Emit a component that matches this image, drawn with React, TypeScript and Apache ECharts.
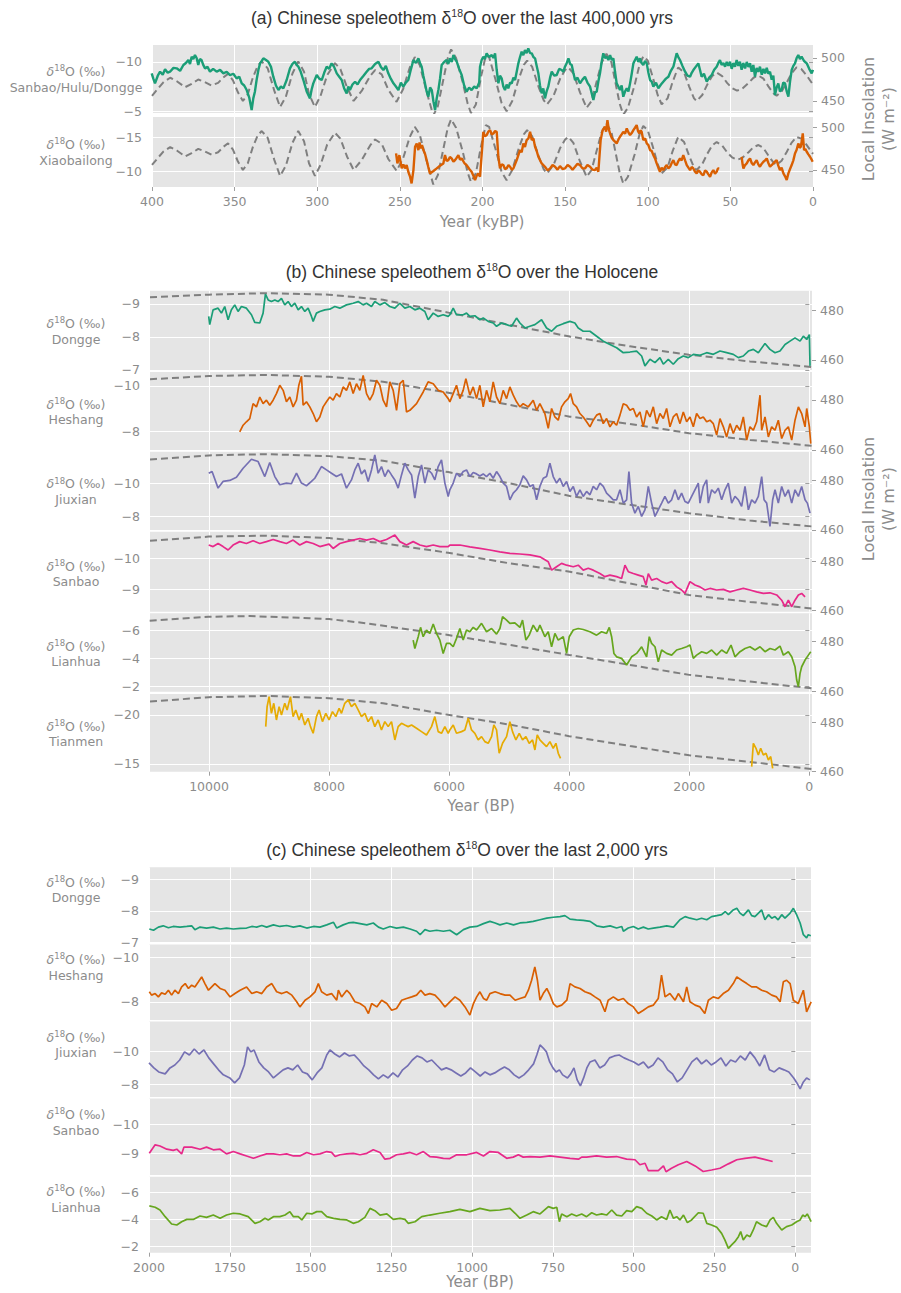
import React, { useEffect, useRef } from "react";
import * as echarts from "echarts";

// ---------------- tick labels ----------------
const yearTicks400k = [400, 350, 300, 250, 200, 150, 100, 50, 0];
const yearTicksHolocene = [10000, 8000, 6000, 4000, 2000, 0];
const yearTicks2k = [2000, 1750, 1500, 1250, 1000, 750, 500, 250, 0];
const insolTicks400k = [450, 500];
const insolTicksHolocene = [460, 480];
const ticksSanbaoHuluDongge = [-10, -5];
const ticksXiaobailong = [-15, -10];
const ticksDongge = [-9, -8, -7];
const ticksHeshang = [-10, -8];
const ticksJiuxian = [-10, -8];
const ticksSanbao = [-10, -9];
const ticksLianhua = [-6, -4, -2];
const ticksTianmen = [-20, -15];

// ---------------- (a) last 400,000 yrs (kyBP, permil / W m-2) ----------------
const insolation400k = [
  [400, 456], [397, 463], [393, 472], [389, 477], [385, 473], [380, 466], [376, 470], [372, 475], [368, 472], [364, 468],
  [360, 471], [357, 477], [354, 481.5], [351, 474], [348, 460], [345, 450], [342, 458], [339, 477], [336, 491], [333.6, 496],
  [330, 488], [326, 462], [322.5, 443], [319, 455], [315, 482], [311.5, 496], [308, 484], [305, 458], [301.4, 443], [298, 456],
  [294, 480], [289.3, 494], [286, 487], [282, 466], [278, 450], [273, 462], [268, 479], [265, 486], [261, 481], [257, 463],
  [252, 449], [248, 464], [244, 489], [241, 501], [238, 492], [234, 462], [229.8, 433], [227, 444], [224, 472], [221, 500],
  [219, 510], [216, 500], [212, 472], [209, 447], [207, 436], [204, 446], [201, 477], [198, 503], [196, 501], [192, 474],
  [188.5, 448], [185.4, 438], [182, 450], [178, 476], [175, 492], [173, 497], [170, 490], [166, 466], [163, 451], [161, 446],
  [157, 456], [153, 476], [150, 486], [148, 489], [145, 482], [141, 460], [137, 442], [134, 450], [131, 472], [128, 494],
  [125, 505], [122, 495], [119, 466], [117, 447], [114.8, 434], [112, 442], [108, 468], [105, 492], [102.7, 502], [100, 497],
  [97, 478], [94, 457], [91.6, 446], [88, 453], [85, 472], [82, 487], [81.5, 489], [78, 483], [75, 467], [72, 453],
  [70.4, 450], [67, 457], [64, 469], [61, 479], [58.3, 483], [55, 479], [52, 471], [49, 465], [46, 462], [43, 464],
  [39, 471], [36, 477], [33, 479.5], [30, 476], [27, 467], [24, 459], [22, 456], [19, 461], [16, 471], [13, 482],
  [10, 489], [7, 487], [4, 480], [0, 469],
];

const sanbaoHuluDongge400k = [
  [400.2, -8.84], [399.2, -8.3], [398.2, -7.82], [396.5, -8.6], [395.1, -9.01], [393.5, -8.7], [392.1, -9.25], [390.5, -8.9],
  [389.1, -9.01], [387, -9.4], [385.1, -9.35], [383, -9.1], [381, -9.69], [379.5, -9.9], [378, -10.2], [377, -9.8],
  [376, -10.54], [375, -10.3], [374, -10.71], [373, -10.4], [372, -9.69], [371, -10.3], [370, -10.2], [369, -9.7],
  [367.9, -9.35], [366.4, -9.5], [364.9, -9.01], [363, -9.3], [360.9, -9.01], [358.8, -9.2], [356.8, -8.84], [354.8, -9.0],
  [352.8, -8.67], [350.8, -8.8], [348.8, -8.33], [347.2, -8.5], [345.7, -7.82], [344.2, -7.6], [342.7, -7.14], [341.2, -6.4],
  [339.7, -5.1], [338.7, -6.29], [337.7, -7.0], [336.7, -8.16], [335.6, -9.2], [334.6, -9.86], [333.6, -10.1], [332.6, -10.37],
  [331, -10.2], [329.6, -10.03], [328, -9.5], [326.6, -8.5], [325, -7.6], [323.5, -7.14], [322, -7.5], [320.5, -7.31],
  [318.5, -8.16], [316.5, -9.35], [315, -9.8], [313.5, -10.03], [312.5, -9.7], [311.4, -9.52], [310, -9.0], [308.4, -8.16],
  [306.4, -7.0], [304.4, -6.29], [303.4, -7.2], [302.4, -7.82], [300.3, -8.67], [298.8, -8.3], [297.3, -8.16], [295.8, -8.9],
  [294.3, -9.52], [292.8, -9.3], [291.3, -9.86], [289.8, -9.5], [288.2, -8.84], [286.7, -8.5], [285.2, -8.16], [283.7, -7.3],
  [282.2, -6.8], [281.2, -7.5], [280.2, -7.14], [278.7, -7.7], [277.1, -7.99], [275.6, -7.7], [274.1, -8.16], [272, -8.6],
  [270.1, -9.01], [268.6, -9.3], [267.1, -9.35], [265, -9.8], [263, -10.03], [261.5, -9.5], [260, -9.18], [258.5, -9.6],
  [257, -8.84], [255.5, -8.3], [253.9, -7.82], [252.4, -7.5], [250.9, -7.14], [249.4, -7.9], [247.9, -7.48], [246.4, -7.9],
  [244.9, -8.16], [243.4, -9.2], [241.8, -10.2], [240.3, -9.9], [238.8, -10.37], [237.8, -9.9], [236.8, -9.52], [235.8, -8.6],
  [234.8, -7.82], [233.8, -7.0], [232.8, -6.46], [231.7, -7.4], [230.7, -7.14], [229.7, -6.0], [228.7, -5.1], [227.7, -6.3],
  [226.7, -7.14], [225.7, -8.3], [224.7, -9.69], [223.2, -10.0], [221.7, -10.2], [220.7, -9.8], [219.7, -10.37], [218.6, -10.0],
  [217.6, -10.71], [216.6, -10.3], [215.6, -10.03], [214.1, -9.3], [212.6, -8.67], [211.1, -7.6], [209.6, -6.97], [208.1, -7.4],
  [206.6, -7.14], [205, -7.5], [203.5, -7.31], [202, -7.9], [201.5, -9.52], [200.5, -10.2], [199.5, -10.54], [198.5, -10.3],
  [197.5, -10.88], [196, -10.5], [194.4, -10.71], [193.4, -10.4], [192.4, -10.88], [191.4, -9.18], [190.4, -7.82], [189.4, -8.6],
  [188.4, -8.33], [187.4, -7.5], [186.4, -7.14], [185.4, -7.7], [184.4, -7.31], [183.3, -7.9], [182.3, -7.82], [181.3, -8.4],
  [180.3, -8.16], [179.3, -9.0], [178.3, -9.86], [177.3, -10.5], [176.3, -11.05], [175.3, -10.7], [174.3, -11.22], [173.3, -10.9],
  [172.3, -11.39], [171.2, -10.9], [170.2, -10.88], [169.2, -10.5], [168.2, -10.37], [167.2, -9.6], [166.2, -8.84], [165.2, -7.6],
  [164.2, -6.8], [163.2, -7.3], [162.2, -6.29], [161.2, -7.0], [160.2, -7.48], [159.1, -8.4], [158.1, -9.01], [156.6, -8.6],
  [155.1, -8.67], [153.6, -9.3], [152.1, -9.18], [151.1, -9.0], [150.1, -9.52], [149, -9.9], [148, -10.37], [147, -9.8],
  [146, -9.69], [145, -8.9], [144, -8.16], [142.5, -8.4], [141, -7.82], [139.5, -8.2], [138, -8.5], [136.5, -7.9],
  [134.9, -7.48], [133.9, -6.8], [132.9, -6.12], [131.9, -6.9], [130.9, -6.97], [129.9, -8.0], [128.9, -8.84], [127.9, -10.0],
  [126.9, -10.88], [125.8, -10.4], [124.8, -10.54], [123.8, -10.2], [122.8, -10.71], [121.8, -10.2], [120.8, -10.37], [119.8, -9.0],
  [118.8, -7.82], [117.8, -7.5], [116.8, -7.14], [115.8, -7.6], [114.8, -6.46], [113.7, -7.0], [112.7, -7.31], [111.7, -7.0],
  [110.7, -7.82], [109.7, -8.8], [108.7, -9.86], [107.7, -10.2], [106.7, -10.54], [105.7, -10.0], [104.7, -10.37], [103.7, -9.9],
  [102.7, -9.69], [101.6, -10.1], [100.6, -9.86], [99.6, -8.9], [98.6, -8.16], [97.6, -8.0], [96.6, -7.48], [95, -7.9],
  [93.6, -7.31], [92, -7.7], [90.6, -7.99], [89, -8.3], [87.5, -8.5], [86, -9.1], [84.5, -9.52], [83.5, -10.2],
  [82.5, -10.88], [81.5, -10.5], [80.5, -10.2], [79, -9.6], [77.4, -9.01], [76, -8.6], [74.4, -8.5], [73.4, -8.9],
  [72.4, -9.18], [71, -9.5], [69.4, -9.86], [68.4, -9.2], [67.4, -8.5], [66, -8.8], [64.3, -7.99], [62.8, -8.4],
  [61.3, -8.67], [59.8, -9.2], [58.3, -9.52], [57.3, -9.9], [56.3, -10.2], [55.3, -9.7], [54.2, -9.9], [53.2, -9.52],
  [52.2, -10.0], [51.2, -9.6], [50.2, -10.03], [49.2, -9.3], [48.2, -9.9], [47.2, -9.52], [46.2, -10.2], [45.2, -9.6],
  [44.2, -10.03], [43.2, -9.2], [42.2, -9.9], [41.1, -9.35], [40.1, -10.0], [39.1, -9.5], [38.1, -9.86], [37.1, -9.0],
  [36.1, -9.7], [35.1, -8.5], [34.1, -9.4], [33.1, -9.0], [32.1, -9.52], [31, -8.7], [30, -9.3], [29, -8.84],
  [28, -9.4], [27, -8.8], [26, -9.01], [25, -8.2], [24, -8.6], [23, -6.63], [22, -7.4], [21, -7.82],
  [20, -7.0], [19, -7.14], [18, -7.9], [16.9, -7.82], [15.9, -7.0], [14.9, -6.46], [13.9, -8.0], [12.9, -9.18],
  [11.9, -9.6], [10.9, -9.86], [9.9, -10.4], [8.9, -10.71], [7.9, -10.3], [6.9, -10.54], [5.4, -10.1], [3.8, -9.86],
  [2.3, -9.3], [0.8, -8.84], [0, -9.2],
];

const xiaobailongEarly = [
  [252.3, -12.64], [251.5, -11.14], [250.3, -12.39], [248.9, -10.39], [247.9, -11.0], [246.9, -10.39], [245.9, -10.9], [244.9, -9.89],
  [243.9, -9.2], [242.9, -8.14], [241.8, -10.14], [240.8, -13.64], [239.8, -14.14], [238.8, -13.14], [238.1, -14.3], [237.4, -13.39],
  [236.6, -13.9], [235.8, -13.14], [234.8, -12.6], [233.8, -11.64], [232.8, -10.6], [231.8, -9.64], [229.7, -10.0], [227.7, -10.39],
  [225.7, -10.8], [223.7, -11.14], [222.7, -12.39], [221.7, -11.5], [220.7, -11.64], [219.7, -12.1], [218.7, -11.89], [217.6, -11.4],
  [216.6, -11.64], [215.6, -12.0], [214.6, -12.39], [213.6, -11.7], [212.6, -11.89], [211, -11.2], [209.6, -10.89], [208, -10.3],
  [206.6, -9.89], [205.5, -9.3], [204.5, -8.64], [203.5, -9.3], [202.5, -9.64], [201.5, -9.14], [200.5, -12.5], [199.5, -15.89],
  [198.5, -15.2], [197.5, -15.39], [196.5, -15.9], [195.4, -16.14], [194.4, -15.5], [193.4, -15.64], [192.4, -16.0], [191.4, -15.89],
  [190.4, -12.14], [189.4, -10.39], [188.4, -11.0], [187.4, -10.89], [186.4, -10.3], [185.4, -10.39], [184.3, -10.9], [183.3, -10.64],
  [182.3, -10.2], [181.3, -10.39], [179.3, -11.64], [177.3, -13.14], [176.3, -12.8], [175.3, -14.14], [174.3, -13.6], [173.3, -14.64],
  [172.2, -14.9], [171.2, -15.89], [170.2, -14.64], [169.2, -14.9], [168.2, -13.64], [167.2, -13.0], [166.2, -12.14], [164.2, -11.14],
  [162.2, -10.64], [160.6, -10.1], [159.1, -10.39], [157.6, -10.9], [156.1, -10.64], [154.6, -10.2], [153.1, -10.74], [151.6, -10.3],
  [150.1, -10.39], [148.5, -10.9], [147, -10.64], [145.5, -10.2], [144, -10.64], [142.5, -11.1], [141, -10.89], [139.5, -10.4],
  [138, -10.39], [136.5, -10.9], [134.9, -10.64], [133.4, -10.2], [131.9, -10.14], [130.9, -10.5], [129.9, -9.89], [128.5, -14.64],
  [127.3, -16.14], [125.9, -16.64], [125.2, -15.9], [124.4, -17.64], [123.6, -16.3], [122.8, -15.64], [121.8, -15.0], [120.8, -14.64],
  [119.8, -14.4], [118.8, -14.14], [117.8, -14.7], [116.8, -15.14], [115.8, -15.5], [114.8, -15.89], [113.7, -15.6], [112.7, -16.39],
  [111.7, -15.8], [110.7, -15.39], [109.7, -15.7], [108.7, -16.14], [107.7, -16.5], [106.7, -16.89], [105.9, -16.0], [105.1, -15.64],
  [104.4, -16.1], [103.7, -15.89], [102.7, -14.64], [101.6, -14.9], [100.6, -14.14], [99.6, -13.9], [98.6, -13.14], [97.6, -13.0],
  [96.6, -12.39], [95.6, -11.9], [94.6, -11.14], [93.6, -10.5], [92.6, -9.89], [91.6, -10.5], [90.6, -10.14], [89.5, -10.6],
  [88.5, -10.89], [87.5, -10.4], [86.5, -10.64], [85.5, -11.2], [84.5, -11.64], [83.5, -11.0], [82.5, -10.89], [81.5, -11.5],
  [80.5, -11.89], [79.5, -11.6], [78.5, -12.39], [77.4, -11.6], [76.4, -10.89], [75.4, -10.5], [74.4, -10.14], [73.4, -10.6],
  [72.4, -10.39], [71.4, -9.9], [70.4, -9.64], [69.4, -10.1], [68.4, -9.89], [67.3, -9.5], [66.3, -9.39], [65.3, -10.1],
  [64.3, -9.89], [63.3, -9.5], [62.3, -9.14], [61.3, -9.8], [60.3, -10.14], [59.3, -9.6], [58.3, -9.89], [57.5, -10.4], [56.7, -10.39],
];
const xiaobailongLate = [
  [43.2, -12.14], [42.6, -11.0], [42.1, -10.39], [41.1, -10.9], [40.1, -11.14], [39.1, -11.6], [38.1, -11.89], [37.1, -11.2],
  [36.1, -10.89], [35.1, -11.3], [34.1, -11.64], [33.1, -11.0], [32.1, -10.64], [31, -11.1], [30, -11.39], [29, -11.6],
  [28, -11.89], [27, -11.2], [26, -10.64], [25, -10.9], [24, -11.14], [23, -11.4], [22, -11.64], [21, -10.8],
  [20, -10.14], [19, -10.5], [17.9, -9.64], [16.9, -9.2], [15.9, -8.64], [14.9, -9.64], [13.9, -10.3], [12.9, -10.89],
  [11.9, -11.6], [10.9, -12.64], [9.9, -13.2], [8.9, -14.14], [8.1, -13.5], [7.4, -13.64], [6.8, -14.5], [6.2, -15.64],
  [5.8, -14.4], [5.4, -13.14], [4.6, -13.3], [3.8, -12.89], [2.8, -12.5], [1.8, -12.14], [1, -11.8], [0.2, -11.39],
];

// ---------------- (b) Holocene (yr BP) ----------------
const insolDonggeHolocene = [[10983, 485.4], [10005, 486.5], [9043, 487.1], [8000, 486.5], [7100, 484.4], [6015, 479.2], [4988, 474.2], [3988, 469.5], [2988, 465.5], [2004, 462.1], [988, 459.4], [-45, 457.1]];
const insolHeshangHolocene = [[10983, 488.3], [10005, 489.6], [9043, 490], [8000, 489.3], [7100, 487.3], [6015, 482.9], [4988, 478], [3988, 473.3], [2988, 470.4], [2004, 466.7], [988, 464], [-45, 461.6]];
const insolJiuxianHolocene = [[10983, 488.6], [10005, 490.3], [9043, 490.8], [8000, 490], [7100, 488.1], [6015, 483.5], [4988, 478.9], [3988, 473.8], [2988, 470.2], [2004, 466.8], [988, 463.8], [-45, 461.4]];
const insolSanbaoHolocene = [[10983, 488.5], [10005, 490.2], [9043, 490.6], [8000, 489.6], [7100, 487.5], [6015, 483.6], [4988, 479.3], [3988, 475.9], [2988, 471.1], [2004, 466.4], [988, 463.6], [-45, 460.9]];
const insolLianhuaHolocene = [[10988, 488.4], [10005, 490], [9321, 490.3], [8488, 489.6], [8000, 489.1], [7377, 487.4], [6821, 485.4], [6015, 482.7], [4988, 478.7], [4000, 474.7], [2988, 470.7], [2000, 466.7], [988, 464], [-45, 461.3]];
const insolTianmenHolocene = [[10983, 488.5], [10005, 490.3], [9043, 490.8], [8000, 489.9], [7100, 487.8], [6015, 483.1], [4988, 479.1], [4000, 474.4], [2988, 470.4], [2000, 466.6], [988, 463.9], [-45, 461]];

const donggeHolocene = [
  [10005, -8.62], [9988, -8.37], [9932, -8.82], [9849, -8.87], [9793, -8.72], [9738, -8.92], [9682, -8.52], [9627, -8.82], [9571, -8.97],
  [9516, -8.77], [9460, -8.92], [9377, -8.87], [9293, -8.67], [9238, -8.44], [9154, -8.42], [9099, -8.72], [9060, -9.3], [9015, -9.12],
  [8960, -9.07], [8904, -9.12], [8849, -9.07], [8793, -9.17], [8738, -8.97], [8682, -9.07], [8627, -8.92], [8571, -9.02], [8515, -8.82],
  [8460, -8.92], [8404, -8.77], [8349, -8.87], [8293, -8.62], [8265, -8.47], [8210, -8.72], [8154, -8.77], [8071, -8.82], [7988, -8.84],
  [7904, -8.92], [7821, -8.87], [7710, -8.97], [7599, -9.02], [7515, -9.07], [7432, -8.97], [7376, -9.02], [7293, -8.92], [7238, -9.07],
  [7154, -8.97], [7071, -9.04], [6988, -8.92], [6904, -8.87], [6821, -9.02], [6738, -8.87], [6654, -8.92], [6571, -8.82], [6487, -8.87],
  [6404, -8.77], [6349, -8.52], [6265, -8.72], [6182, -8.62], [6099, -8.67], [6015, -8.62], [5988, -8.67], [5932, -8.87], [5877, -8.67],
  [5766, -8.67], [5710, -8.72], [5655, -8.62], [5571, -8.64], [5488, -8.52], [5432, -8.57], [5349, -8.47], [5266, -8.42], [5210, -8.32],
  [5127, -8.42], [5043, -8.37], [4960, -8.32], [4877, -8.57], [4821, -8.42], [4738, -8.27], [4655, -8.32], [4571, -8.37], [4460, -8.52],
  [4377, -8.27], [4293, -8.17], [4210, -8.32], [4099, -8.4], [3988, -8.47], [3905, -8.42], [3849, -8.27], [3766, -8.17], [3654, -8.17],
  [3543, -8.02], [3432, -7.87], [3321, -7.77], [3210, -7.67], [3099, -7.52], [2988, -7.54], [2877, -7.57], [2793, -7.42], [2738, -7.12],
  [2654, -7.32], [2571, -7.22], [2488, -7.37], [2432, -7.17], [2349, -7.32], [2266, -7.17], [2182, -7.34], [2099, -7.42], [2016, -7.37],
  [1932, -7.47], [1821, -7.44], [1710, -7.52], [1599, -7.47], [1488, -7.57], [1377, -7.52], [1266, -7.47], [1182, -7.37], [1099, -7.42],
  [1015, -7.57], [932, -7.62], [849, -7.52], [738, -7.8], [655, -7.62], [571, -7.52], [488, -7.57], [404, -7.77], [321, -7.87],
  [238, -7.97], [154, -7.87], [99, -8.02], [43, -7.92], [-1, -8.07], [-12, -7.12],
];

const heshangHolocene = [
  [9488, -7.99], [9432, -8.28], [9377, -8.43], [9321, -8.57], [9266, -9.22], [9210, -9.08], [9154, -9.51], [9099, -9.22], [9043, -9.37],
  [8988, -9.15], [8932, -9.37], [8877, -9.66], [8821, -10.02], [8765, -9.8], [8710, -9.3], [8654, -9.51], [8599, -9.08], [8543, -9.37],
  [8504, -10.02], [8460, -10.41], [8432, -9.15], [8377, -9.3], [8321, -9.08], [8265, -8.79], [8210, -8.43], [8154, -8.64], [8099, -9.08],
  [8043, -9.3], [7988, -9.51], [7932, -9.37], [7877, -9.66], [7821, -9.51], [7765, -9.95], [7710, -9.8], [7654, -10.17], [7599, -9.66],
  [7543, -10.09], [7488, -9.8], [7432, -10.45], [7376, -9.66], [7321, -9.37], [7265, -9.66], [7210, -10.24], [7154, -10.02], [7099, -9.37],
  [7043, -9.08], [6988, -10.17], [6932, -9.8], [6876, -8.93], [6821, -10.09], [6765, -10.24], [6710, -8.86], [6654, -8.93], [6543, -9.22],
  [6432, -9.73], [6349, -10.17], [6265, -10.09], [6182, -9.8], [6099, -9.73], [6015, -9.44], [5988, -9.3], [5932, -9.66], [5877, -10.02],
  [5821, -9.44], [5766, -9.8], [5721, -10.31], [5655, -9.59], [5599, -9.95], [5543, -9.44], [5488, -10.02], [5432, -9.08], [5377, -9.8],
  [5321, -9.3], [5266, -10.17], [5210, -9.51], [5154, -9.22], [5099, -9.8], [5043, -9.44], [4988, -9.95], [4932, -9.59], [4877, -9.3],
  [4821, -9.08], [4766, -9.22], [4682, -9.08], [4599, -9.37], [4543, -8.93], [4488, -9.22], [4405, -8.79], [4349, -8.14], [4293, -9.01],
  [4238, -8.64], [4182, -8.5], [4127, -9.08], [4071, -9.3], [4016, -9.44], [3977, -9.66], [3932, -9.22], [3877, -9.08], [3821, -8.79],
  [3766, -8.64], [3710, -8.43], [3654, -8.21], [3599, -8.5], [3543, -8.72], [3488, -8.79], [3432, -8.35], [3377, -8.57], [3321, -8.21],
  [3266, -8.43], [3210, -8.28], [3154, -8.72], [3099, -9.22], [3043, -9.15], [2988, -8.93], [2932, -9.01], [2877, -8.64], [2821, -8.86],
  [2766, -8.21], [2710, -8.93], [2654, -8.64], [2599, -9.08], [2543, -8.35], [2488, -8.79], [2432, -8.57], [2377, -9.01], [2321, -8.21],
  [2266, -8.64], [2210, -8.79], [2154, -8.35], [2099, -8.86], [2043, -8.43], [1988, -8.64], [1932, -8.21], [1877, -8.79], [1821, -8.57],
  [1766, -8.64], [1710, -8.43], [1654, -8.5], [1599, -8.35], [1543, -7.85], [1488, -8.57], [1432, -8.21], [1377, -7.77], [1321, -8.35],
  [1266, -7.92], [1210, -8.28], [1154, -8.06], [1099, -8.64], [1043, -7.63], [988, -8.21], [932, -8.06], [877, -8.43], [821, -9.59],
  [793, -8.06], [738, -8.64], [682, -7.77], [627, -8.21], [571, -8.06], [516, -8.5], [460, -7.7], [404, -8.06], [349, -8.21],
  [293, -7.63], [238, -8.5], [182, -9.08], [127, -8.79], [71, -8.21], [43, -9.01], [-1, -8.21], [-24, -7.48],
];

const jiuxianHolocene = [
  [10005, -10.6], [9949, -10.7], [9849, -9.71], [9766, -10.11], [9654, -10.17], [9543, -10.36], [9432, -10.9], [9293, -11.44], [9182, -11.3],
  [9071, -10.4], [8988, -11.24], [8904, -10.4], [8821, -9.91], [8710, -10.01], [8627, -9.97], [8599, -10.2], [8543, -10.6], [8460, -10.01],
  [8377, -9.85], [8293, -10.11], [8238, -10.3], [8127, -11.0], [8043, -10.8], [7960, -10.6], [7877, -10.4], [7793, -10.56], [7710, -9.71],
  [7627, -10.2], [7571, -10.8], [7515, -11.2], [7460, -10.56], [7404, -10.8], [7349, -10.11], [7293, -10.8], [7238, -11.7], [7182, -10.6],
  [7127, -11.0], [7071, -10.4], [7015, -10.8], [6960, -10.5], [6904, -10.2], [6849, -9.71], [6793, -10.5], [6738, -11.2], [6682, -10.8],
  [6626, -10.5], [6571, -9.11], [6515, -10.4], [6460, -11.1], [6404, -10.01], [6349, -10.8], [6293, -10.6], [6238, -10.2], [6182, -11.0],
  [6127, -11.4], [6071, -10.01], [6015, -9.21], [5988, -9.61], [5932, -10.01], [5877, -10.6], [5821, -10.4], [5766, -10.7], [5710, -10.8],
  [5655, -10.4], [5599, -10.64], [5543, -10.56], [5488, -10.44], [5432, -10.56], [5377, -10.4], [5321, -10.6], [5266, -10.3], [5210, -10.7],
  [5154, -10.4], [5099, -10.01], [5043, -9.81], [4988, -9.01], [4932, -9.41], [4877, -9.61], [4821, -9.91], [4766, -10.44], [4710, -10.2],
  [4655, -9.81], [4599, -9.91], [4543, -9.01], [4488, -9.81], [4432, -10.3], [4377, -10.4], [4321, -11.2], [4266, -10.4], [4210, -10.01],
  [4155, -10.3], [4099, -9.81], [4043, -10.11], [3988, -9.51], [3932, -9.81], [3877, -9.21], [3821, -9.61], [3766, -9.21], [3710, -9.51],
  [3654, -9.31], [3599, -9.81], [3543, -9.61], [3488, -10.01], [3432, -9.81], [3377, -9.41], [3321, -9.21], [3266, -9.01], [3210, -9.01],
  [3154, -9.61], [3099, -8.81], [3043, -9.01], [3005, -10.7], [2960, -8.81], [2905, -8.21], [2849, -8.61], [2793, -8.01], [2738, -8.41],
  [2682, -9.81], [2627, -8.81], [2571, -8.01], [2516, -8.41], [2460, -8.81], [2405, -9.21], [2349, -8.81], [2293, -9.01], [2238, -9.61],
  [2182, -9.01], [2127, -9.41], [2071, -8.91], [2016, -8.81], [1960, -9.21], [1905, -9.61], [1849, -10.01], [1821, -8.81], [1766, -9.81],
  [1710, -10.2], [1682, -8.81], [1627, -9.61], [1571, -9.41], [1516, -9.71], [1460, -9.01], [1404, -9.61], [1349, -10.01], [1293, -8.81],
  [1238, -9.21], [1182, -9.01], [1127, -8.61], [1071, -9.81], [1015, -8.41], [960, -9.01], [904, -8.81], [849, -9.21], [793, -10.4],
  [754, -9.01], [710, -8.81], [655, -7.41], [610, -9.01], [571, -9.61], [516, -8.81], [460, -9.81], [404, -9.21], [349, -9.61],
  [293, -8.81], [238, -9.61], [182, -9.21], [127, -9.81], [71, -9.01], [32, -8.81], [-12, -8.21],
];

const sanbaoHolocene = [
  [10005, -10.43], [9932, -10.38], [9849, -10.48], [9766, -10.38], [9682, -10.27], [9599, -10.43], [9488, -10.54], [9377, -10.48],
  [9266, -10.57], [9154, -10.48], [9043, -10.54], [8932, -10.61], [8821, -10.54], [8710, -10.48], [8599, -10.59], [8488, -10.43],
  [8377, -10.54], [8265, -10.48], [8154, -10.38], [8000, -10.46], [7932, -10.32], [7821, -10.48], [7710, -10.54], [7599, -10.59],
  [7488, -10.64], [7376, -10.59], [7265, -10.64], [7154, -10.54], [7043, -10.61], [6904, -10.75], [6821, -10.54], [6710, -10.43],
  [6599, -10.54], [6487, -10.43], [6377, -10.38], [6265, -10.43], [6154, -10.38], [6015, -10.38], [5988, -10.43], [5821, -10.43],
  [5655, -10.37], [5488, -10.32], [5321, -10.27], [5154, -10.21], [4988, -10.16], [4821, -10.14], [4655, -10.11], [4488, -10.05],
  [4349, -9.89], [4293, -9.62], [4210, -9.73], [4127, -9.84], [4043, -9.78], [3932, -9.73], [3849, -9.78], [3766, -9.62],
  [3682, -9.68], [3599, -9.62], [3488, -9.51], [3405, -9.41], [3321, -9.46], [3210, -9.41], [3127, -9.35], [3071, -9.78],
  [3015, -9.57], [2932, -9.51], [2849, -9.46], [2766, -9.41], [2721, -9.14], [2682, -9.51], [2627, -9.3], [2543, -9.35],
  [2460, -9.25], [2377, -9.19], [2293, -9.25], [2210, -9.08], [2127, -8.98], [2071, -8.87], [1988, -9.25], [1905, -9.14],
  [1821, -9.08], [1738, -8.98], [1654, -9.03], [1543, -8.98], [1432, -9.0], [1321, -8.92], [1210, -8.98], [1099, -9.03],
  [988, -8.98], [877, -8.92], [766, -8.87], [655, -8.89], [543, -8.82], [460, -8.65], [404, -8.44], [349, -8.65],
  [293, -8.44], [238, -8.65], [182, -8.82], [127, -8.87], [71, -8.76],
];

const lianhuaHolocene = [
  [6599, -5.29], [6571, -4.7], [6515, -5.53], [6476, -6.19], [6432, -5.53], [6377, -6.0], [6321, -5.76], [6265, -6.42], [6210, -5.76],
  [6154, -5.29], [6099, -4.35], [6043, -5.06], [5988, -5.06], [5932, -4.82], [5877, -5.41], [5821, -6.11], [5766, -5.29], [5710, -6.0],
  [5655, -5.88], [5599, -6.19], [5543, -6.0], [5460, -6.47], [5377, -5.88], [5293, -6.11], [5210, -5.71], [5154, -6.11], [5110, -6.94],
  [5043, -6.7], [4988, -6.47], [4905, -6.51], [4821, -6.19], [4777, -6.7], [4721, -5.29], [4666, -5.64], [4599, -6.35], [4532, -5.88],
  [4488, -6.35], [4405, -5.53], [4349, -5.88], [4293, -4.82], [4238, -5.76], [4182, -5.29], [4099, -5.53], [4043, -4.35], [3999, -5.53],
  [3932, -6.0], [3849, -6.11], [3766, -6.04], [3654, -5.88], [3543, -5.64], [3460, -5.88], [3377, -5.76], [3332, -6.19], [3293, -5.53],
  [3255, -4.35], [3210, -4.11], [3127, -4.0], [3043, -3.53], [2960, -4.11], [2877, -4.35], [2793, -4.82], [2710, -4.11], [2666, -5.53],
  [2627, -5.06], [2571, -4.82], [2516, -3.76], [2460, -4.59], [2377, -4.35], [2293, -4.23], [2210, -4.59], [2127, -4.7], [2043, -4.82],
  [1988, -4.94], [1932, -4.0], [1877, -4.23], [1793, -4.47], [1710, -4.35], [1627, -4.59], [1543, -4.23], [1460, -4.59], [1377, -4.35],
  [1304, -4.94], [1238, -4.11], [1154, -4.47], [1071, -4.7], [988, -4.82], [904, -4.59], [821, -4.82], [738, -4.47], [655, -4.7],
  [571, -4.59], [488, -4.87], [432, -4.23], [349, -4.47], [293, -4.11], [238, -3.41], [210, -2.47], [182, -2.0], [154, -2.94],
  [127, -3.41], [71, -3.88], [15, -4.23], [-24, -4.47],
];

const tianmenHoloceneEarly = [
  [9055, -18.81], [9032, -20.85], [8999, -21.87], [8960, -20.17], [8921, -21.19], [8877, -19.49], [8832, -20.85], [8793, -20.0],
  [8738, -21.19], [8699, -20.51], [8643, -21.87], [8599, -19.83], [8555, -20.51], [8499, -19.49], [8460, -20.17], [8404, -18.98],
  [8349, -19.66], [8310, -18.81], [8265, -18.13], [8210, -19.83], [8166, -20.51], [8110, -19.32], [8054, -20.17], [8000, -19.49],
  [7943, -20.34], [7888, -19.83], [7832, -20.68], [7793, -20.17], [7738, -21.19], [7682, -21.53], [7627, -20.85], [7571, -21.19],
  [7515, -20.51], [7460, -19.83], [7404, -20.17], [7349, -19.32], [7293, -19.83], [7238, -18.81], [7182, -19.49], [7127, -18.47],
  [7071, -19.32], [7015, -18.81], [6960, -19.32], [6904, -17.45], [6849, -18.81], [6793, -19.15], [6738, -18.98], [6682, -18.81],
  [6626, -18.98], [6543, -18.64], [6460, -18.3], [6377, -17.96], [6293, -18.81], [6238, -19.83], [6182, -18.3], [6127, -18.13],
  [6071, -18.81], [6015, -18.13], [5988, -18.47], [5932, -18.98], [5877, -18.13], [5793, -18.3], [5738, -18.47], [5682, -19.66],
  [5627, -18.47], [5571, -18.13], [5516, -17.45], [5460, -17.79], [5405, -17.28], [5349, -17.11], [5293, -17.79], [5255, -18.98],
  [5210, -18.47], [5166, -16.09], [5110, -17.11], [5043, -17.79], [4988, -19.32], [4944, -18.3], [4888, -17.45], [4832, -18.13],
  [4777, -17.45], [4721, -17.79], [4666, -17.11], [4610, -17.45], [4571, -16.43], [4532, -17.96], [4488, -17.45], [4432, -17.11],
  [4377, -16.77], [4321, -17.28], [4266, -16.6], [4221, -17.11], [4182, -16.09], [4144, -15.58],
];
const tianmenHoloceneLate = [
  [960, -14.73], [932, -17.11], [888, -16.6], [849, -15.92], [810, -16.6], [766, -15.92], [721, -16.09], [682, -15.41], [643, -15.75], [610, -14.56],
];

// ---------------- (c) last 2,000 yrs (yr BP) ----------------
const dongge2k = [
  [1999, -7.43], [1986, -7.39], [1971, -7.49], [1956, -7.53], [1940, -7.47], [1925, -7.51], [1904, -7.49], [1883, -7.51], [1868, -7.53],
  [1858, -7.41], [1842, -7.49], [1822, -7.46], [1801, -7.49], [1780, -7.43], [1760, -7.46], [1739, -7.43], [1718, -7.45], [1698, -7.46],
  [1682, -7.51], [1667, -7.49], [1651, -7.54], [1636, -7.49], [1615, -7.56], [1595, -7.51], [1574, -7.54], [1553, -7.49], [1533, -7.53],
  [1512, -7.46], [1491, -7.51], [1471, -7.49], [1450, -7.56], [1429, -7.64], [1419, -7.46], [1399, -7.56], [1383, -7.62], [1368, -7.64],
  [1347, -7.6], [1326, -7.56], [1306, -7.62], [1290, -7.49], [1275, -7.43], [1254, -7.51], [1234, -7.46], [1213, -7.49], [1192, -7.43],
  [1172, -7.36], [1161, -7.25], [1146, -7.41], [1131, -7.36], [1110, -7.39], [1089, -7.36], [1069, -7.39], [1048, -7.25], [1027, -7.41],
  [1007, -7.49], [986, -7.51], [965, -7.6], [945, -7.67], [929, -7.62], [914, -7.56], [893, -7.62], [872, -7.56], [852, -7.62],
  [831, -7.64], [811, -7.67], [790, -7.72], [769, -7.77], [749, -7.8], [728, -7.82], [713, -7.85], [697, -7.74], [677, -7.72],
  [656, -7.7], [635, -7.67], [615, -7.53], [594, -7.49], [573, -7.53], [553, -7.46], [537, -7.51], [532, -7.36], [517, -7.46],
  [501, -7.51], [486, -7.43], [470, -7.49], [455, -7.43], [439, -7.46], [419, -7.49], [398, -7.53], [377, -7.49], [357, -7.72],
  [341, -7.82], [326, -7.77], [305, -7.72], [290, -7.77], [274, -7.72], [259, -7.82], [243, -7.85], [228, -7.88], [217, -7.98],
  [207, -7.88], [192, -8.03], [181, -8.08], [171, -7.93], [161, -7.85], [145, -8.03], [135, -7.85], [125, -7.82], [114, -7.93],
  [104, -8.03], [94, -7.72], [83, -7.88], [73, -7.77], [63, -7.82], [53, -7.72], [42, -7.88], [32, -7.77], [16, -7.93],
  [6, -8.08], [-4, -7.88], [-15, -7.62], [-25, -7.25], [-35, -7.15], [-40, -7.25], [-48, -7.22],
];

const heshang2k = [
  [1999, -8.45], [1992, -8.3], [1981, -8.37], [1971, -8.22], [1961, -8.4], [1950, -8.34], [1940, -8.52], [1930, -8.3], [1920, -8.52],
  [1909, -8.37], [1899, -8.67], [1888, -8.82], [1878, -8.6], [1868, -8.75], [1858, -8.67], [1847, -8.9], [1837, -9.12], [1827, -8.82],
  [1816, -8.52], [1806, -8.67], [1796, -8.82], [1780, -8.6], [1765, -8.52], [1749, -8.22], [1734, -8.37], [1718, -8.52], [1698, -8.67],
  [1682, -8.37], [1667, -8.45], [1651, -8.37], [1636, -8.67], [1620, -8.82], [1605, -8.45], [1589, -8.37], [1574, -8.45], [1558, -8.3],
  [1543, -8.0], [1533, -7.77], [1517, -8.07], [1502, -8.22], [1486, -8.45], [1476, -8.82], [1466, -8.45], [1450, -8.3], [1435, -8.37],
  [1419, -8.07], [1414, -8.52], [1404, -8.22], [1388, -8.52], [1378, -8.37], [1363, -8.0], [1347, -7.92], [1332, -7.77], [1321, -7.47],
  [1311, -7.92], [1295, -7.77], [1280, -8.07], [1264, -7.92], [1249, -7.62], [1234, -7.7], [1218, -8.07], [1203, -8.15], [1187, -8.22],
  [1172, -8.3], [1159, -8.52], [1146, -8.3], [1131, -8.37], [1115, -8.3], [1100, -8.07], [1084, -7.77], [1069, -8.0], [1053, -8.22],
  [1038, -8.07], [1022, -7.77], [1007, -7.4], [996, -7.92], [986, -8.22], [976, -8.45], [965, -8.15], [955, -8.07], [945, -8.37],
  [929, -8.45], [914, -8.37], [898, -8.3], [883, -8.3], [867, -8.07], [852, -8.15], [836, -8.22], [826, -8.52], [816, -8.97],
  [806, -9.57], [798, -8.97], [790, -8.07], [780, -8.37], [769, -8.6], [759, -8.3], [749, -7.92], [738, -7.77], [723, -7.85],
  [707, -8.07], [697, -8.82], [682, -8.67], [666, -8.6], [651, -8.45], [635, -8.37], [620, -8.22], [604, -8.07], [589, -7.55],
  [579, -8.07], [563, -8.22], [548, -8.07], [532, -8.15], [517, -7.92], [501, -7.77], [486, -7.47], [470, -7.62], [455, -7.77],
  [439, -7.85], [424, -8.15], [414, -9.2], [403, -8.22], [388, -8.37], [372, -8.07], [362, -8.37], [346, -8.0], [336, -8.67],
  [326, -8.0], [310, -7.85], [295, -7.77], [280, -7.47], [269, -8.07], [254, -8.22], [238, -8.15], [223, -8.37], [207, -8.52],
  [192, -8.82], [181, -9.12], [166, -8.97], [150, -8.82], [135, -8.67], [120, -8.67], [104, -8.52], [89, -8.45], [73, -8.3],
  [58, -8.22], [47, -8.0], [37, -8.9], [27, -8.97], [16, -8.82], [6, -8.07], [-9, -7.92], [-25, -8.52], [-35, -7.55], [-49, -8.0],
];

const jiuxian2k = [
  [2000, -9.31], [1985, -9.0], [1970, -8.75], [1950, -8.63], [1935, -9.0], [1920, -9.18], [1905, -9.49], [1890, -9.99], [1875, -9.8],
  [1860, -10.17], [1845, -9.86], [1830, -10.11], [1815, -9.62], [1800, -9.25], [1785, -8.88], [1770, -8.57], [1750, -8.38], [1735, -8.07],
  [1720, -8.38], [1705, -9.18], [1695, -10.3], [1685, -9.99], [1675, -10.11], [1660, -9.37], [1645, -9.0], [1630, -8.75], [1615, -8.38],
  [1600, -8.63], [1585, -8.88], [1570, -9.0], [1555, -8.88], [1540, -9.18], [1525, -8.75], [1510, -8.63], [1495, -8.26], [1480, -8.69],
  [1465, -9.0], [1450, -9.8], [1440, -10.11], [1425, -9.86], [1410, -9.68], [1395, -9.92], [1380, -9.74], [1365, -9.8], [1350, -9.49],
  [1335, -9.12], [1320, -8.88], [1305, -8.57], [1290, -8.32], [1275, -8.57], [1260, -8.38], [1245, -8.69], [1230, -8.44], [1215, -8.88],
  [1200, -9.12], [1185, -9.49], [1170, -9.74], [1155, -9.62], [1140, -9.37], [1125, -9.49], [1110, -9.18], [1095, -8.88], [1080, -9.0],
  [1065, -8.88], [1050, -8.69], [1035, -8.5], [1020, -8.69], [1005, -9.0], [990, -8.75], [975, -8.5], [960, -8.75], [945, -8.57],
  [930, -8.69], [915, -8.88], [900, -9.06], [885, -8.88], [870, -8.57], [855, -8.38], [840, -8.57], [825, -8.88], [810, -9.25],
  [800, -9.8], [790, -10.42], [780, -10.23], [770, -9.99], [760, -9.37], [750, -9.0], [740, -8.75], [730, -8.88], [720, -8.57],
  [705, -8.38], [695, -8.63], [685, -9.0], [675, -8.26], [665, -7.89], [655, -8.38], [645, -9.0], [635, -9.37], [620, -9.49],
  [605, -9.0], [590, -9.18], [575, -9.62], [560, -9.74], [545, -9.8], [530, -9.62], [515, -9.49], [500, -9.37], [485, -9.18],
  [470, -9.37], [455, -9.0], [440, -9.18], [425, -9.62], [410, -9.37], [395, -8.88], [380, -8.63], [365, -8.13], [350, -8.38],
  [335, -8.88], [320, -9.37], [305, -9.62], [290, -9.25], [275, -9.49], [260, -9.18], [245, -9.37], [230, -9.62], [215, -9.12],
  [200, -9.49], [185, -9.37], [170, -9.74], [155, -9.49], [140, -9.99], [125, -9.62], [110, -9.12], [95, -9.8], [80, -8.88],
  [65, -8.75], [50, -9.0], [35, -8.88], [20, -8.75], [5, -8.38], [-5, -8.07], [-15, -7.7], [-25, -8.13], [-35, -8.38], [-45, -8.26],
];

const sanbao2k = [
  [1999, -9.0], [1981, -9.29], [1966, -9.25], [1945, -9.14], [1925, -9.1], [1914, -9.14], [1899, -8.98], [1892, -9.21], [1868, -9.21],
  [1842, -9.14], [1822, -9.21], [1801, -9.12], [1780, -9.14], [1760, -8.98], [1739, -9.06], [1718, -8.98], [1698, -8.91], [1677, -8.83],
  [1657, -8.91], [1636, -8.98], [1615, -8.98], [1595, -8.95], [1574, -8.98], [1553, -8.91], [1533, -8.91], [1512, -9.03], [1491, -8.95],
  [1471, -8.98], [1450, -9.06], [1435, -9.03], [1424, -8.89], [1409, -8.95], [1388, -8.98], [1368, -9.0], [1347, -8.95], [1326, -9.0],
  [1306, -9.12], [1285, -9.03], [1270, -8.8], [1254, -8.83], [1234, -8.95], [1213, -8.98], [1192, -9.03], [1172, -8.95], [1151, -9.06],
  [1131, -8.89], [1110, -8.87], [1089, -8.83], [1069, -8.82], [1048, -8.95], [1017, -8.95], [986, -9.03], [965, -8.91], [945, -9.06],
  [919, -9.03], [893, -8.83], [873, -8.87], [857, -8.95], [842, -8.87], [821, -8.89], [790, -8.87], [759, -8.91], [728, -8.87],
  [697, -8.83], [671, -8.8], [661, -8.87], [646, -8.87], [615, -8.91], [584, -8.87], [553, -8.89], [522, -8.8], [496, -8.78],
  [481, -8.61], [465, -8.66], [455, -8.41], [439, -8.41], [424, -8.41], [408, -8.57], [400, -8.37], [383, -8.49], [362, -8.61],
  [336, -8.72], [310, -8.57], [285, -8.38], [259, -8.43], [233, -8.49], [207, -8.64], [181, -8.78], [156, -8.83], [125, -8.87],
  [99, -8.8], [70, -8.72],
];

const lianhua2k = [
  [1999, -5.0], [1981, -4.9], [1966, -4.7], [1950, -4.21], [1930, -3.67], [1914, -3.6], [1899, -3.84], [1883, -4.01], [1863, -4.01],
  [1842, -4.26], [1822, -4.16], [1801, -4.33], [1780, -4.09], [1760, -4.33], [1739, -4.46], [1718, -4.41], [1693, -4.21], [1672, -3.72],
  [1657, -3.84], [1641, -4.09], [1631, -3.97], [1615, -4.21], [1595, -4.21], [1579, -4.33], [1564, -4.58], [1553, -4.21], [1538, -4.21],
  [1527, -3.97], [1512, -4.46], [1496, -4.41], [1481, -4.58], [1466, -4.58], [1450, -4.21], [1429, -4.09], [1409, -4.01], [1388, -3.97],
  [1368, -3.72], [1352, -3.84], [1332, -4.16], [1316, -4.82], [1301, -4.65], [1285, -4.33], [1264, -4.41], [1244, -4.01], [1223, -4.09],
  [1208, -4.01], [1198, -3.72], [1177, -3.84], [1156, -4.21], [1131, -4.33], [1100, -4.46], [1069, -4.58], [1038, -4.75], [1007, -4.58],
  [976, -4.82], [945, -4.65], [914, -4.7], [883, -4.82], [867, -4.46], [852, -4.09], [831, -4.33], [811, -4.58], [790, -4.41],
  [764, -4.95], [749, -4.82], [738, -4.9], [730, -3.84], [723, -4.41], [707, -4.21], [692, -4.41], [677, -4.26], [661, -4.41],
  [646, -4.21], [630, -4.5], [615, -4.33], [599, -4.41], [584, -4.33], [568, -4.7], [553, -4.33], [537, -4.26], [522, -4.65],
  [506, -4.58], [491, -4.95], [475, -4.82], [460, -4.46], [444, -4.26], [429, -3.97], [414, -4.21], [398, -4.01], [388, -4.7],
  [377, -4.09], [367, -4.21], [357, -3.97], [346, -4.33], [334, -3.77], [321, -3.97], [300, -4.5], [285, -4.46], [274, -3.72],
  [259, -3.6], [243, -3.43], [228, -2.98], [218, -2.5], [207, -1.88], [197, -2.13], [187, -2.37], [176, -2.74], [169, -3.11],
  [161, -2.5], [150, -2.86], [140, -2.74], [130, -3.23], [120, -3.84], [104, -3.6], [89, -3.48], [78, -3.97], [68, -4.16],
  [58, -3.72], [42, -3.23], [27, -3.48], [11, -3.6], [-4, -3.84], [-15, -3.97], [-23, -4.33], [-30, -4.21], [-37, -4.41], [-49, -3.84],
];

// ---------------- styling / layout ----------------
const FONT = "DejaVu Sans";
const TITLE_FONT = "Liberation Sans";
const GRAY = "#8c8c8c";
const TICK = "#a0a0a0";
const BG = "#e5e5e5";
const DASH = "#7f7f7f";
const C_GREEN = "#1b9e77";
const C_ORANGE = "#d95f02";
const C_PURPLE = "#7570b3";
const C_PINK = "#e7298a";
const C_LIME = "#66a61e";
const C_YELLOW = "#e6ab02";

const panels: any = {
  a: { left: 152, width: 661, xMin: 0, xMax: 400, ticks: yearTicks400k, lw: 2.4 },
  b: { left: 150, width: 662, xMin: -45, xMax: 10983, ticks: yearTicksHolocene, lw: 1.7 },
  c: { left: 149, width: 662, xMin: -48.6, xMax: 2000, ticks: yearTicks2k, lw: 1.7 },
};

const rows: any[] = [
  { p: "a", top: 45, h: 68, yMin: -11.73, yMax: -4.8, yT: ticksSanbaoHuluDongge, rMin: 436, rMax: 515.1, rT: insolTicks400k, data: [sanbaoHuluDongge400k], ins: insolation400k, color: C_GREEN, name: "Sanbao/Hulu/Dongge", ly: 79.5 },
  { p: "a", top: 117, h: 70, yMin: -18.11, yMax: -7.6, yT: ticksXiaobailong, rMin: 429.9, rMax: 512.6, rT: insolTicks400k, data: [xiaobailongEarly, xiaobailongLate], ins: insolation400k, color: C_ORANGE, name: "Xiaobailong", ly: 152.5, bottom: true },
  { p: "b", top: 290.7, h: 79.8, yMin: -9.4, yMax: -6.98, yT: ticksDongge, rMin: 455.7, rMax: 488.1, rT: insolTicksHolocene, data: [donggeHolocene], ins: insolDonggeHolocene, color: C_GREEN, name: "Dongge", ly: 331.3 },
  { p: "b", top: 372, h: 78, yMin: -10.6, yMax: -7.2, yT: ticksHeshang, rMin: 459.95, rMax: 491.2, rT: insolTicksHolocene, data: [heshangHolocene], ins: insolHeshangHolocene, color: C_ORANGE, name: "Heshang", ly: 412 },
  { p: "b", top: 451.7, h: 78.3, yMin: -11.89, yMax: -7.2, yT: ticksJiuxian, rMin: 459.95, rMax: 491.8, rT: insolTicksHolocene, data: [jiuxianHolocene], ins: insolJiuxianHolocene, color: C_PURPLE, name: "Jiuxian", ly: 491.7 },
  { p: "b", top: 531.7, h: 80, yMin: -10.86, yMax: -8.28, yT: ticksSanbao, rMin: 459.6, rMax: 492.2, rT: insolTicksHolocene, data: [sanbaoHolocene], ins: insolSanbaoHolocene, color: C_PINK, name: "Sanbao", ly: 573.9 },
  { p: "b", top: 613.3, h: 78.4, yMin: -7.18, yMax: -1.65, yT: ticksLianhua, rMin: 459.95, rMax: 491.4, rT: insolTicksHolocene, data: [lianhuaHolocene], ins: insolLianhuaHolocene, color: C_LIME, name: "Lianhua", ly: 653.9 },
  { p: "b", top: 694, h: 77.7, yMin: -22.14, yMax: -14.21, yT: ticksTianmen, rMin: 459.9, rMax: 491.6, rT: insolTicksHolocene, data: [tianmenHoloceneEarly, tianmenHoloceneLate], ins: insolTianmenHolocene, color: C_YELLOW, name: "Tianmen", ly: 733.9, bottom: true },
  { p: "c", top: 867.3, h: 75.7, yMin: -9.37, yMax: -6.99, yT: ticksDongge, data: [dongge2k], color: C_GREEN, name: "Dongge", ly: 890 },
  { p: "c", top: 944.5, h: 75.5, yMin: -10.58, yMax: -7.18, yT: ticksHeshang, data: [heshang2k], color: C_ORANGE, name: "Heshang", ly: 967.2 },
  { p: "c", top: 1021.5, h: 75.5, yMin: -11.87, yMax: -7.2, yT: ticksJiuxian, data: [jiuxian2k], color: C_PURPLE, name: "Jiuxian", ly: 1045 },
  { p: "c", top: 1098.5, h: 76.5, yMin: -10.87, yMax: -8.26, yT: ticksSanbao, data: [sanbao2k], color: C_PINK, name: "Sanbao", ly: 1122.5 },
  { p: "c", top: 1176.7, h: 76, yMin: -7.15, yMax: -1.56, yT: ticksLianhua, data: [lianhua2k], color: C_LIME, name: "Lianhua", ly: 1199.5, bottom: true },
];

const fmtNeg = (v: number) => (v < 0 ? "\u2212" + Math.abs(v) : String(v));

const labelRich = {
  d: { fontFamily: FONT, fontSize: 12.5, fontStyle: "italic", fill: GRAY, lineHeight: 15.7 },
  s: { fontFamily: FONT, fontSize: 8.5, fill: GRAY, lineHeight: 6, verticalAlign: "top" },
  n: { fontFamily: FONT, fontSize: 12.5, fill: GRAY, lineHeight: 15.7 },
};
const titleRich = {
  t: { fontFamily: TITLE_FONT, fontSize: 17.5, fill: "#333333", lineHeight: 21 },
  s: { fontFamily: TITLE_FONT, fontSize: 10.5, fill: "#333333", lineHeight: 7, verticalAlign: "top" },
};

function buildOption() {
  const grid: any[] = [];
  const xAxis: any[] = [];
  const yAxis: any[] = [];
  const series: any[] = [];
  const graphic: any[] = [];
  const axisFont = { fontFamily: FONT, fontSize: 12.5, color: GRAY };

  rows.forEach((r, i) => {
    const p = panels[r.p];
    grid.push({ left: p.left, width: p.width, top: r.top, height: r.h, show: true, backgroundColor: BG, borderWidth: 0, containLabel: false, outerBoundsMode: "none" });
    xAxis.push({
      type: "value", gridIndex: i, min: p.xMin, max: p.xMax, inverse: true,
      axisLine: { show: false },
      axisTick: { show: !!r.bottom, customValues: p.ticks, length: 4, lineStyle: { color: TICK } },
      axisLabel: { show: !!r.bottom, customValues: p.ticks, margin: 8, ...axisFont, formatter: (v: number) => String(v) },
      splitLine: { show: true, lineStyle: { color: "#ffffff", width: 1 } },
    });
    const li = yAxis.length;
    yAxis.push({
      type: "value", gridIndex: i, position: "left", inverse: true, min: r.yMin, max: r.yMax,
      axisLine: { show: false },
      axisTick: { show: true, customValues: r.yT, length: 4, lineStyle: { color: TICK } },
      axisLabel: { customValues: r.yT, margin: 10, ...axisFont, formatter: fmtNeg },
      splitLine: { show: true, lineStyle: { color: "#ffffff", width: 1 } },
    });
    if (r.ins) {
      const ri = yAxis.length;
      yAxis.push({
        type: "value", gridIndex: i, position: "right", min: r.rMin, max: r.rMax,
        axisLine: { show: false },
        axisTick: { show: true, customValues: r.rT, length: 4, lineStyle: { color: TICK } },
        axisLabel: { customValues: r.rT, margin: 8, ...axisFont, formatter: (v: number) => String(v) },
        splitLine: { show: false },
      });
      series.push({
        type: "line", xAxisIndex: i, yAxisIndex: ri, data: r.ins, showSymbol: false, symbol: "none", silent: true, z: 2,
        lineStyle: { color: DASH, width: 2, type: [7, 4] },
      });
    }
    r.data.forEach((d: any) => {
      series.push({
        type: "line", xAxisIndex: i, yAxisIndex: li, data: d, showSymbol: false, symbol: "none", silent: true, z: 3,
        lineStyle: { color: r.color, width: p.lw },
      });
    });
    graphic.push({
      type: "text", x: 76, y: r.ly, silent: true,
      style: {
        text: "{d|δ}{s|18}{n|O (‰)}\n{n|" + r.name + "}", rich: labelRich,
        align: "center", verticalAlign: "middle", textAlign: "center", textVerticalAlign: "middle",
        fontFamily: FONT, fontSize: 12.5, fill: GRAY,
      },
    });
  });

  const titles = [
    { x: 462, y: 18, text: "{t|(a) Chinese speleothem δ}{s|18}{t|O over the last 400,000 yrs}" },
    { x: 472, y: 272, text: "{t|(b) Chinese speleothem δ}{s|18}{t|O over the Holocene}" },
    { x: 467, y: 850, text: "{t|(c) Chinese speleothem δ}{s|18}{t|O over the last 2,000 yrs}" },
  ];
  titles.forEach((t) =>
    graphic.push({
      type: "text", x: t.x, y: t.y, silent: true,
      style: { text: t.text, rich: titleRich, align: "center", verticalAlign: "middle", textAlign: "center", textVerticalAlign: "middle", fontFamily: TITLE_FONT, fontSize: 17.5, fill: "#333333" },
    })
  );
  const xNames = [
    { x: 482, y: 222, text: "Year (kyBP)" },
    { x: 481, y: 806, text: "Year (BP)" },
    { x: 480, y: 1282, text: "Year (BP)" },
  ];
  xNames.forEach((t) =>
    graphic.push({
      type: "text", x: t.x, y: t.y, silent: true,
      style: { text: t.text, align: "center", verticalAlign: "middle", textAlign: "center", textVerticalAlign: "middle", fontFamily: FONT, fontSize: 15, fill: GRAY },
    })
  );
  const rNames = [
    { x: 878, y: 119 },
    { x: 878, y: 499 },
  ];
  rNames.forEach((t) =>
    graphic.push({
      type: "text", x: t.x, y: t.y, rotation: Math.PI / 2, silent: true,
      style: { text: "Local Insolation\n(W m⁻²)", align: "center", verticalAlign: "middle", textAlign: "center", textVerticalAlign: "middle", fontFamily: FONT, fontSize: 16, lineHeight: 20, fill: GRAY },
    })
  );

  return { animation: false, backgroundColor: "#ffffff", grid, xAxis, yAxis, series, graphic };
}

export default function App() {
  const ref = useRef<HTMLDivElement>(null);
  useEffect(() => {
    if (!ref.current) return;
    const chart = echarts.init(ref.current, null, { renderer: "svg" });
    chart.setOption(buildOption() as any);
    return () => chart.dispose();
  }, []);
  return (
    <div
      ref={ref}
      style={{ position: "absolute", left: 0, top: 0, width: 901, height: 1293, background: "#ffffff" }}
    />
  );
}
